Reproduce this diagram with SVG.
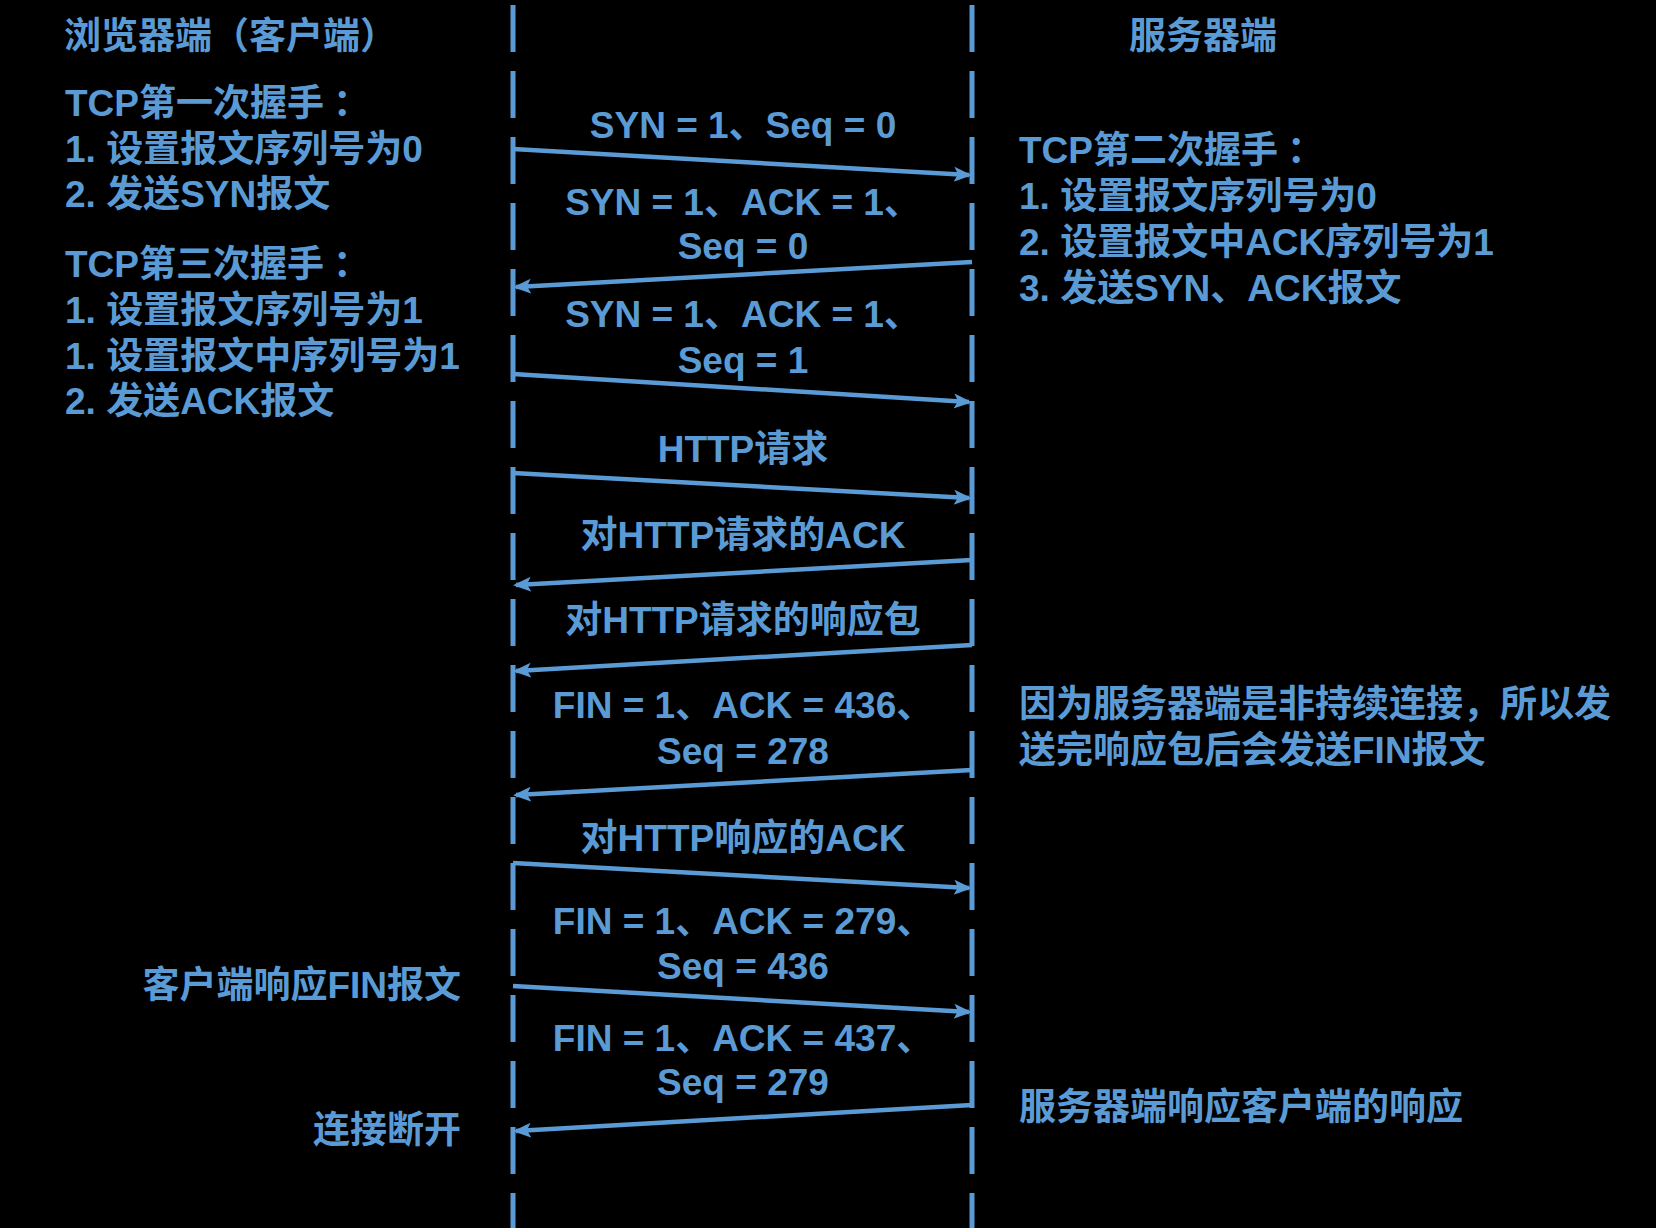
<svg xmlns="http://www.w3.org/2000/svg" width="1656" height="1228" viewBox="0 0 1656 1228">
<style>
.t{font-family:"Liberation Sans","Noto Sans CJK SC",sans-serif;font-weight:bold;font-size:37px;fill:#5b9bd5}
.m{text-anchor:middle}
.e{text-anchor:end}
.life{stroke:#5b9bd5;stroke-width:5;stroke-dasharray:47 19;fill:none}
.msg{stroke:#5b9bd5;stroke-width:4.5;fill:none;marker-end:url(#ah)}
</style>
<defs>
<marker id="ah" markerUnits="userSpaceOnUse" markerWidth="22" markerHeight="20" refX="15" refY="9" orient="auto">
<path d="M0,1.5 L18,9 L0,16.5 L4,9 z" fill="#5b9bd5"/>
</marker>
</defs>
<rect width="1656" height="1228" fill="#000"/>
<g id="lifelines">
<line id="client-line" class="life" x1="513" y1="5" x2="513" y2="1228"/>
<line id="server-line" class="life" x1="972" y1="5" x2="972" y2="1228"/>
</g>
<g id="connectors">
<line class="msg" x1="513" y1="149" x2="969" y2="175"/>
<line class="msg" x1="972" y1="262" x2="516" y2="287"/>
<line class="msg" x1="513" y1="374" x2="969" y2="402"/>
<line class="msg" x1="513" y1="473" x2="969" y2="498"/>
<line class="msg" x1="972" y1="560" x2="516" y2="585"/>
<line class="msg" x1="972" y1="645" x2="516" y2="671"/>
<line class="msg" x1="972" y1="770" x2="516" y2="795"/>
<line class="msg" x1="513" y1="863" x2="969" y2="888"/>
<line class="msg" x1="513" y1="986" x2="969" y2="1012"/>
<line class="msg" x1="972" y1="1105" x2="516" y2="1131"/>
</g>
<g id="client-header"><text class="t" x="64" y="49">浏览器端（客户端）</text></g>
<g id="server-header"><text class="t" x="1129" y="49">服务器端</text></g>
<g id="client-handshake1">
<text class="t" x="65" y="116">TCP第一次握手<tspan dx="9">：</tspan></text>
<text class="t" x="65" y="162">1. 设置报文序列号为0</text>
<text class="t" x="65" y="207">2. 发送SYN报文</text>
</g>
<g id="client-handshake3">
<text class="t" x="65" y="277">TCP第三次握手<tspan dx="9">：</tspan></text>
<text class="t" x="65" y="323">1. 设置报文序列号为1</text>
<text class="t" x="65" y="369">1. 设置报文中序列号为1</text>
<text class="t" x="65" y="414">2. 发送ACK报文</text>
</g>
<g id="server-handshake2">
<text class="t" x="1019" y="163">TCP第二次握手<tspan dx="9">：</tspan></text>
<text class="t" x="1019" y="209">1. 设置报文序列号为0</text>
<text class="t" x="1019" y="255">2. 设置报文中ACK序列号为1</text>
<text class="t" x="1019" y="301">3. 发送SYN、ACK报文</text>
</g>
<g id="server-note">
<text class="t" x="1019" y="717">因为服务器端是非持续连接，所以发</text>
<text class="t" x="1019" y="763">送完响应包后会发送FIN报文</text>
</g>
<g id="server-note2"><text class="t" x="1019" y="1120">服务器端响应客户端的响应</text></g>
<g id="client-fin"><text class="t e" x="461" y="998">客户端响应FIN报文</text></g>
<g id="client-close"><text class="t e" x="461" y="1143">连接断开</text></g>
<g id="labels">
<text class="t m" x="743" y="138">SYN = 1、Seq = 0</text>
<text class="t m" x="743" y="215">SYN = 1、ACK = 1、</text>
<text class="t m" x="743" y="259">Seq = 0</text>
<text class="t m" x="743" y="327">SYN = 1、ACK = 1、</text>
<text class="t m" x="743" y="373">Seq = 1</text>
<text class="t m" x="743" y="462">HTTP请求</text>
<text class="t m" x="743" y="548">对HTTP请求的ACK</text>
<text class="t m" x="743" y="633">对HTTP请求的响应包</text>
<text class="t m" x="743" y="718">FIN = 1、ACK = 436、</text>
<text class="t m" x="743" y="764">Seq = 278</text>
<text class="t m" x="743" y="851">对HTTP响应的ACK</text>
<text class="t m" x="743" y="934">FIN = 1、ACK = 279、</text>
<text class="t m" x="743" y="979">Seq = 436</text>
<text class="t m" x="743" y="1051">FIN = 1、ACK = 437、</text>
<text class="t m" x="743" y="1095">Seq = 279</text>
</g>
</svg>
